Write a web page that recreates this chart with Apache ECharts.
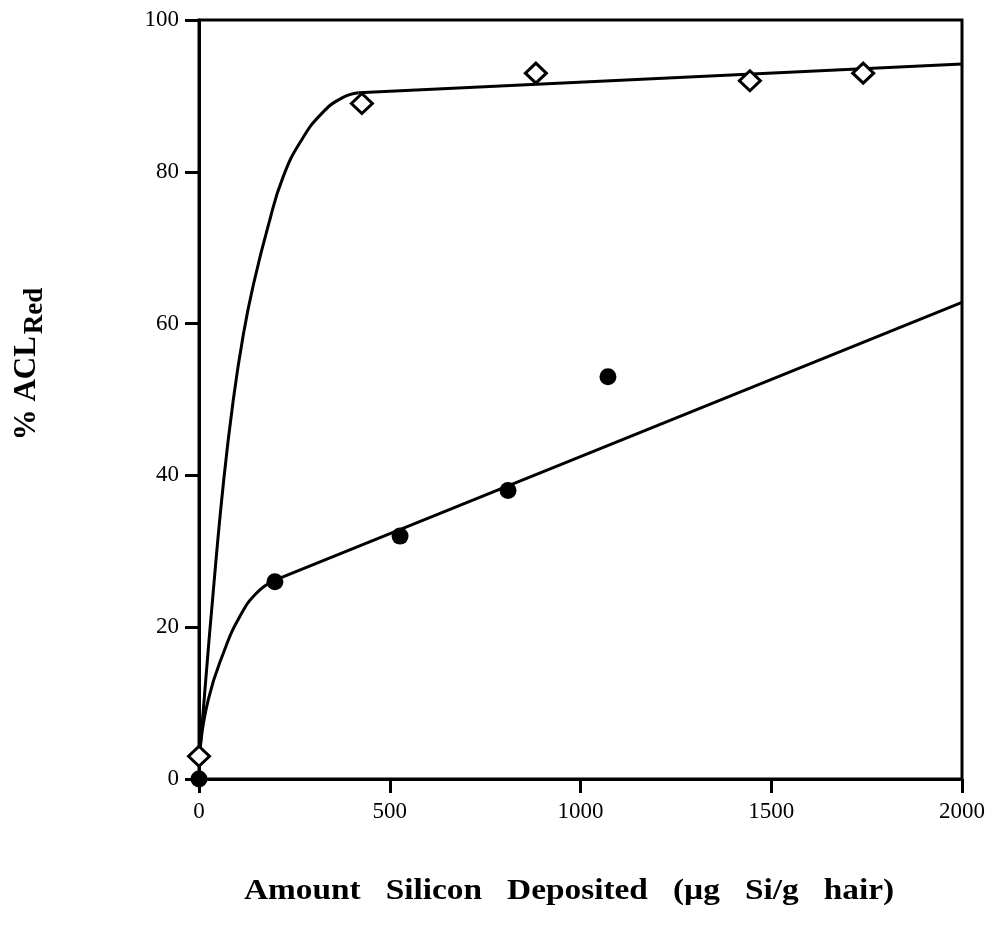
<!DOCTYPE html>
<html>
<head>
<meta charset="utf-8">
<style>
  html, body { margin: 0; padding: 0; background: #fff; }
  #main { width: 990px; height: 935px; }
</style>
</head>
<body>
<div id="main"></div>
<script src="https://cdn.jsdelivr.net/npm/echarts@6/dist/echarts.min.js"></script>
<script type="text/javascript">

    // measured points
    var diamondX = [0, 427, 883, 1444, 1741];
    var diamondY = [3, 89, 93, 92, 93];
    var circleX = [0, 199, 527, 810, 1072];
    var circleY = [0, 26, 32, 38, 53];

    // fitted lines
    var upperCurveX = [3, 16, 37, 64, 90, 116, 142, 182, 221, 269, 322, 374, 418];
    var upperCurveY = [4, 12, 24.5, 39, 50, 58.5, 65, 73, 79.4, 84.2, 87.7, 89.7, 90.4];
    var upperLineX = [418, 2000];
    var upperLineY = [90.4, 94.2];
    var lowerCurveX = [3, 24, 64, 107, 151, 199];
    var lowerCurveY = [4, 10.4, 16.6, 21.4, 24.5, 26.2];
    var lowerLineX = [199, 2000];
    var lowerLineY = [26.2, 62.8];

    var xTicks = [0, 500, 1000, 1500, 2000];
    var yTicks = [0, 20, 40, 60, 80, 100];

    var xTitle = 'Amount   Silicon   Deposited   (\u00b5g   Si/g   hair)';

    function pairs(xs, ys) {
        var out = [];
        for (var i = 0; i < xs.length; i++) out.push([xs[i], ys[i]]);
        return out;
    }

    var font = '"Liberation Serif", "Times New Roman", serif';
    var lineStyle = { color: '#000', width: 3 };

    function fit(xs, ys, smooth) {
        return {
            type: 'line', data: pairs(xs, ys), showSymbol: false, smooth: smooth,
            lineStyle: lineStyle, silent: true, z: 2
        };
    }

    var myChart = echarts.init(document.getElementById('main'));

    var option = {
        animation: false,
        backgroundColor: '#fff',
        grid: {
            left: 199, top: 20, right: 28, bottom: 156,
            show: true, borderColor: '#000', borderWidth: 3
        },
        xAxis: {
            type: 'value', min: xTicks[0], max: xTicks[xTicks.length - 1], interval: 500,
            splitLine: { show: false },
            axisLine: { lineStyle: { color: '#000', width: 3 } },
            axisTick: { length: 14, lineStyle: { color: '#000', width: 3 } },
            axisLabel: {
                color: '#000', fontFamily: font, fontSize: 23, margin: 21,
                formatter: function (v) { return String(v); }
            }
        },
        yAxis: {
            type: 'value', min: yTicks[0], max: yTicks[yTicks.length - 1], interval: 20,
            splitLine: { show: false },
            axisLine: { lineStyle: { color: '#000', width: 3 } },
            axisTick: { length: 14, lineStyle: { color: '#000', width: 3 } },
            axisLabel: {
                color: '#000', fontFamily: font, fontSize: 23, margin: 20,
                formatter: function (v) { return String(v); }
            }
        },
        graphic: [{
            type: 'text',
            x: 27, y: 364,
            rotation: Math.PI / 2,
            style: {
                text: '{a|% ACL}{b|Red}',
                align: 'center', verticalAlign: 'middle',
                rich: {
                    a: { fontFamily: font, fontSize: 31, fontWeight: 'bold', fill: '#000' },
                    b: { fontFamily: font, fontSize: 27, fontWeight: 'bold', fill: '#000', padding: [16, 0, 0, 2] }
                }
            }
        }, {
            type: 'text',
            x: 569, y: 892,
            scaleX: 1.15,
            style: {
                text: xTitle,
                align: 'center', verticalAlign: 'middle',
                fontFamily: font, fontSize: 29, fontWeight: 'bold', fill: '#000'
            }
        }],
        series: [
            fit(upperCurveX, upperCurveY, 0.5),
            fit(upperLineX, upperLineY, false),
            fit(lowerCurveX, lowerCurveY, 0.5),
            fit(lowerLineX, lowerLineY, false),
            {
                type: 'scatter', data: pairs(diamondX, diamondY),
                symbol: 'diamond', symbolSize: [21, 20],
                itemStyle: { color: '#fff', borderColor: '#000', borderWidth: 3, opacity: 1 },
                z: 3
            },
            {
                type: 'scatter', data: pairs(circleX, circleY),
                symbol: 'circle', symbolSize: 17,
                itemStyle: { color: '#000', opacity: 1 },
                z: 4
            }
        ]
    };

    myChart.setOption(option);
</script>
</body>
</html>
